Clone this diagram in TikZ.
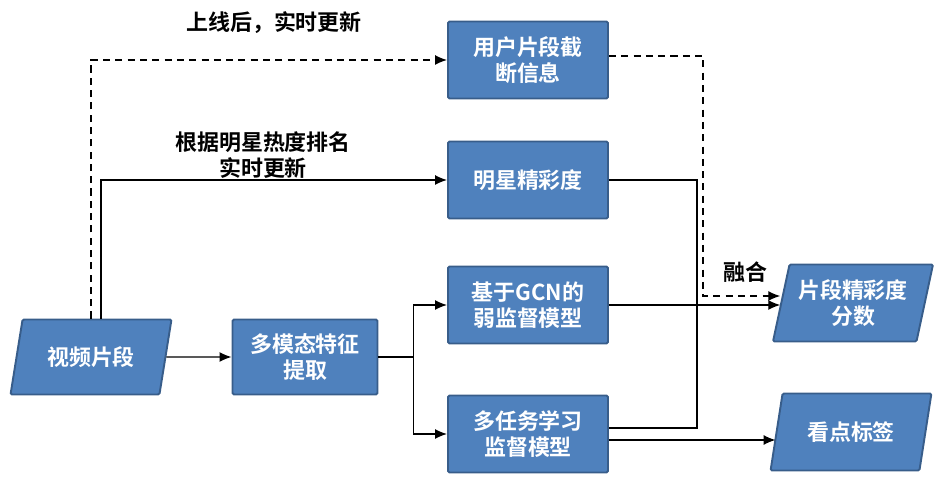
\documentclass[tikz,border=0pt]{standalone}
\usepackage{fontspec}
\setmainfont{Noto Sans CJK SC}[BoldFont={Noto Sans CJK SC Bold}]
\usepackage{xcolor}
\usetikzlibrary{
  arrows.meta,
  positioning,
  shapes.geometric,
  calc
}
\definecolor{BoxBlue}{HTML}{4F81BD}
\definecolor{EdgeBlue}{HTML}{385D8A}
\tikzset{
  box/.style={
    draw=EdgeBlue,
    fill=BoxBlue,
    line width=1.1pt,
    rounded corners=0.8pt,
    text=white,
    font=\fontsize{12.5}{15}\selectfont\bfseries,
    align=center,
    minimum width=3.2cm,
    minimum height=1.54cm
  },
  iobox/.style={
    box,
    trapezium,
    trapezium left angle=75,
    trapezium right angle=105,
    trapezium stretches=true,
    minimum width=3.22cm
  },
  note/.style={
    font=\fontsize{12.5}{15}\selectfont\bfseries,
    align=center,
    inner sep=1pt
  },
  connection/.style={
    -{Latex[length=2.4mm,width=2mm]},
    line width=0.8pt
  },
  merge/.style={
    line width=0.8pt
  },
  online/.style={
    -{Latex[length=2.4mm,width=2mm]},
    line width=0.8pt,
    dash pattern=on 4pt off 3pt
  }
}

\begin{document}
\begin{tikzpicture}

  \useasboundingbox (0,0) rectangle (18.82,9.64);

  \node[iobox, minimum height=1.5cm] (clip) at (1.82,2.50) {视频片段};

  \node[box, minimum width=2.9cm, minimum height=1.5cm] (feature) at (6.10,2.50) {
    多模态特征\\
    提取
  };

  \node[box] (user) at (10.56,8.44) {
    用户片段截\\
    断信息
  };

  \node[box] (star) at (10.56,6.04) {明星精彩度};

  \node[box] (gcn) at (10.56,3.54) {
    基于GCN的\\
    弱监督模型
  };

  \node[box] (multi) at (10.56,0.96) {
    多任务学习\\
    监督模型
  };

  \node[iobox] (score) at (17.06,3.58) {
    片段精彩度\\
    分数
  };

  \node[iobox] (tag) at (17.02,1.00) {看点标签};

  \node[note] (lblonline) at (5.48,9.18) {上线后，实时更新};
  \node[note] (lblrank) at (5.26,6.54) {
    根据明星热度排名\\
    实时更新
  };
  \node[note] (lblfuse) at (14.90,4.20) {融合};

  % main flow
  \draw[connection] (clip) -- (feature);

  \coordinate (split) at ($(feature.east)+(0.70,0)$);
  \draw[merge] (feature.east) -- (split);
  \draw[connection] (split) |- (gcn.west);
  \draw[connection] (split) |- (multi.west);

  % real-time updates
  \draw[online] (clip.north) |- (user.west);
  \draw[connection] ([xshift=0.2cm]clip.north) |- (star.west);

  % fusion
  \draw[merge] (star.east) -- ++(1.76,0) |- ([yshift=0.12cm]multi.east);
  \draw[online] ([yshift=0.08cm]user.east) -- ++(1.88,0) |- ([yshift=0.14cm]score.west);
  \draw[connection] (gcn.east) -- (gcn.east -| score.west);

  \coordinate (multiout) at ([yshift=-0.12cm]multi.east);
  \draw[connection] (multiout) -- (multiout -| tag.west);

\end{tikzpicture}
\end{document}
